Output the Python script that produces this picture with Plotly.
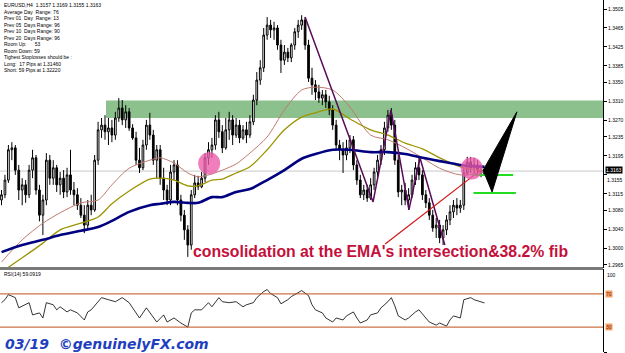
import plotly.graph_objects as go

# ---------------- data (EURUSD H4) ----------------
candle_idx = list(range(141))
opens = [1.3102,1.3113,1.3144,1.3208,1.3212,1.3165,1.3123,1.3134,1.3113,1.3165,
         1.3191,1.3123,1.3070,1.3102,1.3186,1.3148,1.3170,1.3134,1.3148,1.3119,
         1.3155,1.3123,1.3113,1.3091,1.3070,1.3049,1.3091,1.3081,1.3186,1.3250,
         1.3260,1.3246,1.3254,1.3239,1.3275,1.3296,1.3271,1.3288,1.3254,1.3233,
         1.3186,1.3170,1.3218,1.3260,1.3239,1.3186,1.3208,1.3148,1.3123,1.3102,
         1.3161,1.3176,1.3102,1.3070,1.3039,1.3007,1.3113,1.3138,1.3130,1.3148,
         1.3191,1.3208,1.3218,1.3271,1.3246,1.3212,1.3250,1.3271,1.3239,1.3260,
         1.3233,1.3250,1.3239,1.3267,1.3313,1.3355,1.3381,1.3450,1.3471,1.3461,
         1.3465,1.3429,1.3397,1.3414,1.3402,1.3429,1.3457,1.3471,1.3482,1.3429,
         1.3359,1.3345,1.3330,1.3317,1.3324,1.3309,1.3292,1.3260,1.3218,1.3208,
         1.3197,1.3212,1.3229,1.3176,1.3144,1.3113,1.3123,1.3106,1.3134,1.3161,
         1.3186,1.3208,1.3254,1.3281,1.3260,1.3186,1.3119,1.3123,1.3102,1.3113,
         1.3144,1.3170,1.3155,1.3113,1.3096,1.3070,1.3043,1.3049,1.3022,1.3039,
         1.3060,1.3077,1.3091,1.3085,1.3091,1.3159,1.3182,1.3170,1.3176,1.3165,
         1.3157]
highs = [1.3123,1.3155,1.3218,1.3224,1.3218,1.3176,1.3148,1.3144,1.3176,1.3208,
         1.3197,1.3134,1.3113,1.3201,1.3197,1.3186,1.3176,1.3161,1.3165,1.3170,
         1.3208,1.3140,1.3127,1.3106,1.3091,1.3102,1.3113,1.3197,1.3267,1.3275,
         1.3281,1.3275,1.3271,1.3288,1.3317,1.3313,1.3302,1.3296,1.3262,1.3246,
         1.3212,1.3229,1.3271,1.3286,1.3250,1.3218,1.3218,1.3170,1.3134,1.3176,
         1.3186,1.3186,1.3113,1.3081,1.3049,1.3123,1.3155,1.3153,1.3161,1.3201,
         1.3224,1.3233,1.3281,1.3288,1.3260,1.3275,1.3288,1.3281,1.3275,1.3271,
         1.3260,1.3267,1.3281,1.3324,1.3372,1.3397,1.3465,1.3488,1.3482,1.3478,
         1.3471,1.3440,1.3429,1.3423,1.3433,1.3465,1.3482,1.3492,1.3488,1.3440,
         1.3381,1.3355,1.3345,1.3334,1.3334,1.3322,1.3302,1.3271,1.3229,1.3224,
         1.3229,1.3239,1.3237,1.3186,1.3155,1.3134,1.3134,1.3148,1.3170,1.3197,
         1.3218,1.3267,1.3292,1.3296,1.3271,1.3197,1.3134,1.3138,1.3127,1.3155,
         1.3182,1.3191,1.3165,1.3123,1.3106,1.3081,1.3064,1.3060,1.3049,1.3070,
         1.3091,1.3102,1.3106,1.3102,1.3170,1.3193,1.3193,1.3191,1.3186,1.3176,
         1.3169]
lows = [1.3091,1.3106,1.3138,1.3186,1.3155,1.3102,1.3091,1.3096,1.3106,1.3148,
        1.3113,1.3057,1.3028,1.3091,1.3134,1.3134,1.3119,1.3113,1.3106,1.3108,
        1.3113,1.3091,1.3081,1.3064,1.3032,1.3039,1.3070,1.3077,1.3176,1.3233,
        1.3229,1.3218,1.3224,1.3229,1.3267,1.3260,1.3254,1.3248,1.3229,1.3176,
        1.3159,1.3165,1.3208,1.3229,1.3176,1.3148,1.3134,1.3102,1.3091,1.3091,
        1.3144,1.3091,1.3057,1.3018,1.2982,1.2997,1.3106,1.3123,1.3127,1.3140,
        1.3176,1.3191,1.3208,1.3233,1.3201,1.3208,1.3229,1.3218,1.3233,1.3222,
        1.3229,1.3222,1.3233,1.3260,1.3302,1.3345,1.3372,1.3440,1.3444,1.3440,
        1.3419,1.3370,1.3387,1.3393,1.3393,1.3419,1.3444,1.3461,1.3419,1.3351,
        1.3324,1.3313,1.3307,1.3302,1.3296,1.3281,1.3250,1.3208,1.3186,1.3159,
        1.3186,1.3201,1.3165,1.3134,1.3106,1.3102,1.3098,1.3102,1.3123,1.3148,
        1.3176,1.3197,1.3246,1.3250,1.3176,1.3108,1.3091,1.3091,1.3081,1.3106,
        1.3134,1.3144,1.3102,1.3085,1.3060,1.3035,1.3022,1.3011,1.3007,1.3028,
        1.3049,1.3064,1.3070,1.3075,1.3081,1.3153,1.3159,1.3155,1.3153,1.3150,
        1.3155]
closes = [1.3113,1.3144,1.3208,1.3212,1.3165,1.3123,1.3134,1.3113,1.3165,1.3191,
          1.3123,1.3070,1.3102,1.3186,1.3148,1.3170,1.3134,1.3148,1.3119,1.3155,
          1.3123,1.3113,1.3091,1.3070,1.3049,1.3091,1.3081,1.3186,1.3250,1.3260,
          1.3246,1.3254,1.3239,1.3275,1.3296,1.3271,1.3288,1.3254,1.3233,1.3186,
          1.3170,1.3218,1.3260,1.3239,1.3186,1.3208,1.3148,1.3123,1.3102,1.3161,
          1.3176,1.3102,1.3070,1.3039,1.3007,1.3113,1.3138,1.3130,1.3148,1.3191,
          1.3208,1.3218,1.3271,1.3246,1.3212,1.3250,1.3271,1.3239,1.3260,1.3233,
          1.3250,1.3239,1.3267,1.3313,1.3355,1.3381,1.3450,1.3471,1.3461,1.3465,
          1.3429,1.3397,1.3414,1.3402,1.3429,1.3457,1.3471,1.3482,1.3429,1.3359,
          1.3345,1.3330,1.3317,1.3324,1.3309,1.3292,1.3260,1.3218,1.3208,1.3197,
          1.3212,1.3229,1.3176,1.3144,1.3113,1.3123,1.3106,1.3134,1.3161,1.3186,
          1.3208,1.3254,1.3281,1.3260,1.3186,1.3119,1.3123,1.3102,1.3113,1.3144,
          1.3170,1.3155,1.3113,1.3096,1.3070,1.3043,1.3049,1.3022,1.3039,1.3060,
          1.3077,1.3091,1.3085,1.3091,1.3159,1.3182,1.3170,1.3176,1.3165,1.3159,
          1.3163]

ema_idx = [0, 6, 12, 17, 23, 28, 32, 37, 43, 46, 50, 54, 57, 61, 64, 68, 72, 77, 82, 87,
           91, 96, 101, 107, 112, 117, 122, 127, 133, 140]
ema_fast = [1.2971,1.3018,1.3053,1.3075,1.3096,1.3102,1.3134,1.3169,1.3186,1.3191,
            1.3180,1.3159,1.3151,1.3157,1.3165,1.3178,1.3201,1.3235,1.3292,1.3334,
            1.3340,1.3334,1.3298,1.3239,1.3229,1.3212,1.3191,1.3169,1.3155,1.3161]
ema_mid = [1.2950,1.2980,1.3011,1.3039,1.3053,1.3066,1.3094,1.3121,1.3146,1.3148,
           1.3144,1.3132,1.3132,1.3144,1.3146,1.3159,1.3172,1.3208,1.3250,1.3277,
           1.3286,1.3294,1.3273,1.3250,1.3239,1.3222,1.3210,1.3191,1.3172,1.3163]
ema_slow = [1.2992,1.3007,1.3018,1.3028,1.3037,1.3045,1.3058,1.3077,1.3091,1.3094,
            1.3098,1.3096,1.3096,1.3108,1.3108,1.3119,1.3125,1.3144,1.3165,1.3189,
            1.3199,1.3208,1.3208,1.3203,1.3203,1.3199,1.3191,1.3184,1.3176,1.3172]

rsi_idx = [0,1,2,4,5,7,8,9,11,12,13,15,16,17,19,20,22,24,25,26,
           28,29,31,33,35,37,38,40,42,43,45,47,48,50,52,54,55,56,58,60,
           61,63,64,66,68,70,71,73,74,76,77,78,80,81,83,84,86,87,89,90,
           91,93,94,96,97,99,100,102,103,104,106,107,109,110,112,113,114,115,117,118,
           120,121,123,124,126,127,129,130,131,133,134,136,137,139,140]
rsi_val = [59.4,63.0,69.1,65.5,53.2,56.9,59.4,44.7,47.1,41.0,59.4,56.9,50.8,54.5,48.3,50.8,47.1,38.6,48.3,50.8,
           60.6,65.5,63.0,60.6,65.5,59.4,53.2,41.0,53.2,47.1,36.1,44.7,36.1,41.0,34.9,30.0,47.1,50.8,50.8,59.4,
           54.5,65.5,60.6,59.4,60.6,54.5,56.9,59.4,65.5,72.8,75.3,70.4,65.5,58.1,63.0,66.7,71.6,74.0,67.9,56.9,
           50.8,47.1,41.0,36.1,41.0,38.6,43.5,48.3,41.0,34.9,38.6,44.7,47.1,53.2,60.6,65.5,55.7,43.5,38.6,41.0,
           48.3,50.8,41.0,36.1,32.4,34.9,31.2,38.6,43.5,41.0,63.0,65.5,63.0,60.6,59.1]
rsi_levels = [70, 30]

price_ticks = [1.3505,1.3465,1.3425,1.3385,1.3350,1.3310,1.3270,1.3235,1.3195,
               1.3155,1.3115,1.3080,1.3040,1.3000,1.2965]
last_price = 1.3163

# drawn analysis objects
zone_x = [30.3, 174.35]
zone_y = [1.3275, 1.3312]
trend_x = [88.0, 107.7, 112.9, 118.1, 121.3, 128.5]
trend_y = [1.3488, 1.3098, 1.3292, 1.3081, 1.3191, 1.3007]
fib_x = [111.2, 138.9]
fib_y = [1.3009, 1.3165]
tp1_x = [136.3, 148.3]; tp1_y = [1.3155, 1.3155]
tp2_x = [136.8, 149.1]; tp2_y = [1.3117, 1.3117]
arrow_x = [149.4, 139.6, 142.2, 149.4]
arrow_y = [1.3288, 1.3165, 1.3119, 1.3288]
circle_x = [[57.0, 63.4], [133.1, 139.5]]
circle_y = [[1.3156, 1.3203], [1.3145, 1.3192]]

info_lines = ["EURUSD,H4  1.3157 1.3169 1.3155 1.3163",
              "Average Day  Range: 76",
              "Prev 01  Day  Range: 13",
              "Prev 05  Days Range: 96",
              "Prev 10  Days Range: 90",
              "Prev 20  Days Range: 96",
              "Room Up:      53",
              "Room Down: 59",
              "Tighest Stoplosses should be :",
              "Long:  17 Pips at 1.31460",
              "Short: 59 Pips at 1.32220"]

# ---------------- figure ----------------
W, H = 625, 353
XR = [-0.435, 174.35]
YR = [1.29585, 1.3524]
split = 85 / H
small = dict(family="Liberation Sans", size=5, color="black")

fig = go.Figure()

fig.add_trace(go.Candlestick(
    x=candle_idx, open=opens, high=highs, low=lows, close=closes,
    increasing=dict(line=dict(color="black", width=1), fillcolor="white"),
    decreasing=dict(line=dict(color="black", width=1), fillcolor="black"),
    whiskerwidth=0, showlegend=False, hoverinfo="skip", xaxis="x", yaxis="y"))

fig.add_trace(go.Scatter(x=ema_idx, y=ema_fast, mode="lines", line=dict(color="#c07a70", width=1, shape="spline", smoothing=0.8), showlegend=False, hoverinfo="skip"))
fig.add_trace(go.Scatter(x=ema_idx, y=ema_mid, mode="lines", line=dict(color="#9c9400", width=1.3, shape="spline", smoothing=0.8), showlegend=False, hoverinfo="skip"))
fig.add_trace(go.Scatter(x=ema_idx, y=ema_slow, mode="lines", line=dict(color="#000080", width=2.6, shape="spline", smoothing=0.8), showlegend=False, hoverinfo="skip"))

fig.add_trace(go.Scatter(x=trend_x, y=trend_y, mode="lines", line=dict(color="#5a0a5a", width=1.5), showlegend=False, hoverinfo="skip"))
fig.add_trace(go.Scatter(x=fib_x, y=fib_y, mode="lines", line=dict(color="#d01515", width=1.2), showlegend=False, hoverinfo="skip"))
fig.add_trace(go.Scatter(x=tp1_x, y=tp1_y, mode="lines", line=dict(color="#22dd22", width=2), showlegend=False, hoverinfo="skip"))
fig.add_trace(go.Scatter(x=tp2_x, y=tp2_y, mode="lines", line=dict(color="#22dd22", width=2), showlegend=False, hoverinfo="skip"))
fig.add_trace(go.Scatter(x=arrow_x, y=arrow_y, mode="lines", fill="toself", fillcolor="black", line=dict(color="black", width=1), showlegend=False, hoverinfo="skip"))

fig.add_trace(go.Scatter(x=rsi_idx, y=rsi_val, mode="lines", line=dict(color="black", width=0.8), showlegend=False, hoverinfo="skip", xaxis="x2", yaxis="y2"))

shapes = [
    dict(type="rect", xref="x", yref="y", x0=zone_x[0], x1=zone_x[1], y0=zone_y[0], y1=zone_y[1],
         fillcolor="#8cc08c", line=dict(width=0), layer="below"),
    dict(type="line", xref="x", yref="y", x0=XR[0], x1=XR[1], y0=last_price, y1=last_price,
         line=dict(color="#c8c8c8", width=1), layer="below"),
    dict(type="line", xref="paper", yref="paper", x0=0, x1=1, y0=split - 0.5 / H, y1=split - 0.5 / H,
         line=dict(color="#7a7a7a", width=3)),
]
for lv in rsi_levels:
    shapes.append(dict(type="line", xref="x2", yref="y2", x0=XR[0], x1=XR[1], y0=lv, y1=lv,
                       line=dict(color="#c0501a", width=1)))
for cx, cy in zip(circle_x, circle_y):
    shapes.append(dict(type="circle", xref="x", yref="y", x0=cx[0], x1=cx[1], y0=cy[0], y1=cy[1],
                       fillcolor="rgba(236,90,170,0.78)", line=dict(width=0)))

annotations = [
    dict(text="<br>".join(info_lines), xref="paper", yref="paper", x=0.004, y=1.0,
         xanchor="left", yanchor="top", align="left", showarrow=False, font=small),
    dict(text="RSI(14) 59.0919", xref="paper", yref="paper", x=0.004, y=1 - 274 / H,
         xanchor="left", yanchor="middle", showarrow=False, font=small),
    dict(text="<b>consolidation at the EMA's intersection&38.2% fib</b>", xref="paper", yref="paper",
         x=380 / 603, y=1 - 251 / H, xanchor="center", yanchor="middle", showarrow=False,
         font=dict(family="Liberation Sans", size=15.8, color="#c4103a")),
    dict(text="<b><i>03/19\u00a0 ©genuinelyFX.com</i></b>", xref="paper", yref="paper",
         x=107 / 603, y=1 - 343.5 / H, xanchor="center", yanchor="middle", showarrow=False,
         font=dict(family="DejaVu Sans", size=14, color="#1f3fc0")),
    dict(text=f"{last_price:.4f}", xref="paper", yref="y", x=1, y=last_price, xanchor="left",
         yanchor="middle", xshift=2, yshift=1, showarrow=False, bgcolor="black", borderpad=0,
         font=dict(family="Liberation Sans", size=5, color="white")),
    # price label partly hidden by the current-price box in the reference
    dict(text="1.3155", xref="paper", yref="y", x=1, y=1.3155, xanchor="left", yanchor="top",
         xshift=2, yshift=-0.5, showarrow=False, font=small),
    dict(text="100", xref="paper", yref="y2", x=1, y=100, xanchor="left", yanchor="top",
         xshift=2, yshift=-1, showarrow=False, font=small),
]
for lv in rsi_levels:
    annotations.append(dict(text=str(lv), xref="paper", yref="y2", x=1, y=lv, xanchor="left",
                            yanchor="middle", xshift=2, showarrow=False, bgcolor="#f6a26a",
                            borderpad=0, font=dict(family="Liberation Sans", size=5, color="#7a2000")))

tick_text = ["" if v == 1.3155 else f"{v:.4f}" for v in price_ticks]

fig.update_layout(
    width=W, height=H, margin=dict(l=0, r=22, t=0, b=0),
    paper_bgcolor="white", plot_bgcolor="white", showlegend=False,
    xaxis=dict(domain=[0, 1], range=XR, showticklabels=False, showgrid=False, zeroline=False,
               rangeslider=dict(visible=False), anchor="y", fixedrange=True),
    yaxis=dict(domain=[split, 1], range=YR, side="right", tickvals=price_ticks,
               ticktext=tick_text, ticks="outside", ticklen=3,
               tickcolor="black", tickfont=small,
               showgrid=False, zeroline=False, showline=True, linecolor="black", linewidth=1,
               automargin=False, anchor="x"),
    xaxis2=dict(domain=[0, 1], range=XR, showticklabels=False, showgrid=False, zeroline=False,
                anchor="y2"),
    yaxis2=dict(domain=[1 / H, 84 / H], range=[0, 100], side="right", tickvals=[0],
                ticktext=["0"], ticks="outside", ticklen=3, tickcolor="black",
                tickfont=small,
                showgrid=False, zeroline=False, showline=True, linecolor="black", linewidth=1,
                automargin=False, anchor="x2"),
    shapes=shapes, annotations=annotations,
)

fig.write_html("out.html")
